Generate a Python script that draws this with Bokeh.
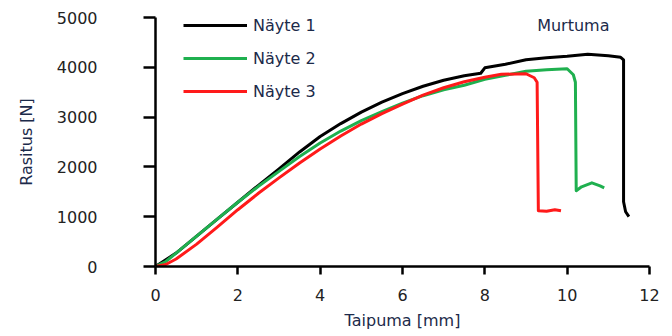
from bokeh.plotting import figure
from bokeh.models import Legend, LegendItem, Label, FixedTicker, Range1d
from bokeh.embed import file_html
from bokeh.resources import INLINE

# ---- data ----
x1 = [0, 0.5, 1.0, 1.5, 2.0, 2.5, 3.0, 3.5, 4.0, 4.5, 5.0, 5.5, 6.0, 6.5, 7.0, 7.5, 7.9, 8.0,
      8.5, 9.0, 9.5, 10.0, 10.5, 11.0, 11.3, 11.37, 11.37, 11.42, 11.5]
y1 = [0, 270, 610, 950, 1290, 1630, 1960, 2300, 2610, 2870, 3100, 3300, 3470, 3620, 3740, 3830, 3880, 3990,
      4060, 4150, 4190, 4220, 4260, 4230, 4200, 4150, 1300, 1100, 1000]

x2 = [0, 0.25, 0.5, 1.0, 1.5, 2.0, 2.5, 3.0, 3.5, 4.0, 4.5, 5.0, 5.5, 6.0, 6.5, 7.0, 7.5, 8.0,
      8.5, 9.0, 9.5, 10.0, 10.15, 10.2, 10.22, 10.35, 10.6, 10.8, 10.9]
y2 = [0, 100, 270, 610, 950, 1290, 1610, 1910, 2210, 2480, 2720, 2930, 3110, 3280, 3430, 3550, 3640, 3760,
      3840, 3920, 3950, 3970, 3850, 3700, 1520, 1600, 1680, 1620, 1580]

x3 = [0, 0.25, 0.5, 1.0, 1.5, 2.0, 2.5, 3.0, 3.5, 4.0, 4.5, 5.0, 5.5, 6.0, 6.5, 7.0, 7.5, 8.0,
      8.4, 9.0, 9.2, 9.27, 9.3, 9.5, 9.7, 9.85]
y3 = [0, 40, 150, 450, 790, 1140, 1470, 1780, 2080, 2360, 2620, 2860, 3070, 3260, 3440, 3590, 3710, 3800,
      3860, 3870, 3790, 3700, 1120, 1110, 1140, 1120]

series_names = ["Näyte 1", "Näyte 2", "Näyte 3"]
series_colors = ["#000000", "#1fb04f", "#ff1a1a"]

x_ticks = [0, 2, 4, 6, 8, 10, 12]
y_ticks = [0, 1000, 2000, 3000, 4000, 5000]
annotation_text = "Murtuma"
annotation_x = 10.15
annotation_y = 4840

FONT = "DejaVu Sans"
TITLE_COLOR = "#1c2a4a"
TICK_COLOR = "#222222"

p = figure(width=664, height=335, output_backend="svg", toolbar_location=None,
           x_range=Range1d(0, 12), y_range=Range1d(0, 5000),
           min_border_left=155, min_border_right=15, min_border_top=17, min_border_bottom=69)
p.outline_line_color = None
p.grid.visible = False
p.background_fill_color = "white"

renderers = []
for xs, ys, c in zip([x1, x2, x3], [y1, y2, y3], series_colors):
    r = p.line(xs, ys, line_color=c, line_width=3, line_join="round")
    renderers.append(r)

for ax in (p.xaxis[0], p.yaxis[0]):
    ax.axis_line_color = "black"
    ax.axis_line_width = 2.5
    ax.major_tick_line_color = "black"
    ax.major_tick_line_width = 2.5
    ax.major_tick_in = 0
    ax.minor_tick_line_color = None
    ax.major_label_text_font = FONT
    ax.major_label_text_font_size = "16px"
    ax.major_label_text_color = TICK_COLOR
    ax.axis_label_text_font = FONT
    ax.axis_label_text_font_size = "16px"
    ax.axis_label_text_font_style = "normal"
    ax.axis_label_text_color = TITLE_COLOR

p.xaxis[0].ticker = FixedTicker(ticks=x_ticks)
p.yaxis[0].ticker = FixedTicker(ticks=y_ticks)
p.xaxis[0].major_tick_out = 8
p.yaxis[0].major_tick_out = 12
p.xaxis[0].major_label_standoff = 14
p.yaxis[0].major_label_standoff = 46
p.xaxis[0].axis_label = "Taipuma [mm]"
p.yaxis[0].axis_label = "Rasitus [N]"
p.xaxis[0].axis_label_standoff = 7
p.yaxis[0].axis_label_standoff = 18

items = [LegendItem(label=n, renderers=[r]) for n, r in zip(series_names, renderers)]
legend = Legend(items=items, location=(28, 165), orientation="vertical",
                glyph_width=64, glyph_height=20, label_height=20, label_standoff=6,
                spacing=13, padding=0, margin=0,
                label_text_font=FONT, label_text_font_size="16px", label_text_color=TITLE_COLOR,
                background_fill_alpha=0, border_line_color=None)
p.add_layout(legend)

lab = Label(x=annotation_x, y=annotation_y, text=annotation_text, text_align="center",
            text_baseline="middle", text_font=FONT, text_font_size="16px", text_color=TITLE_COLOR)
p.add_layout(lab)

open("out.html", "w").write(file_html(p, INLINE))
